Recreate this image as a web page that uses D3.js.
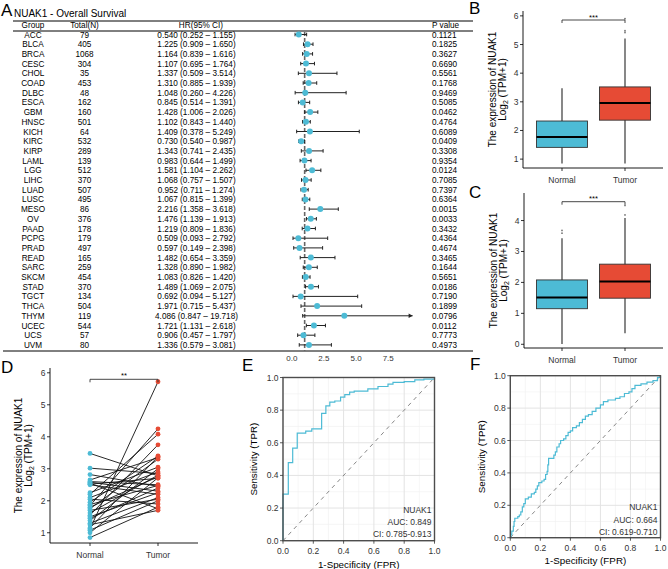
<!DOCTYPE html>
<html><head><meta charset="utf-8">
<script src="https://cdn.jsdelivr.net/npm/d3@7"></script>
<style>body{margin:0;background:#fff}svg{display:block;font-family:"Liberation Sans",Arial,Helvetica,sans-serif}</style>
</head><body><svg id="c" width="668" height="569"></svg>
<script>
// ---------- DATA ----------
const groups = ["ACC","BLCA","BRCA","CESC","CHOL","COAD","DLBC","ESCA","GBM","HNSC","KICH","KIRC","KIRP","LAML","LGG","LIHC","LUAD","LUSC","MESO","OV","PAAD","PCPG","PRAD","READ","SARC","SKCM","STAD","TGCT","THCA","THYM","UCEC","UCS","UVM"];
const totals = [79,405,1068,304,35,453,48,162,160,501,64,532,289,139,512,370,507,495,86,376,178,179,497,165,259,454,370,134,504,119,544,57,80];
const hr = [0.540,1.225,1.164,1.107,1.337,1.310,1.048,0.845,1.428,1.102,1.409,0.730,1.343,0.983,1.581,1.068,0.952,1.067,2.216,1.476,1.219,0.509,0.597,1.482,1.328,1.083,1.489,0.692,1.971,4.086,1.721,0.906,1.336];
const hrLow = [0.252,0.909,0.839,0.695,0.509,0.885,0.260,0.514,1.006,0.843,0.378,0.540,0.741,0.644,1.104,0.757,0.711,0.815,1.358,1.139,0.809,0.093,0.149,0.654,0.890,0.826,1.069,0.094,0.715,0.847,1.131,0.457,0.579];
const hrHigh = [1.155,1.650,1.616,1.764,3.514,1.939,4.226,1.391,2.026,1.440,5.249,0.987,2.435,1.499,2.262,1.507,1.274,1.399,3.618,1.913,1.836,2.792,2.398,3.359,1.982,1.420,2.075,5.127,5.437,19.718,2.618,1.797,3.081];
const pValues = [0.1121,0.1825,0.3627,0.6690,0.5561,0.1768,0.9469,0.5085,0.0462,0.4764,0.6089,0.0409,0.3308,0.9354,0.0124,0.7085,0.7397,0.6364,0.0015,0.0033,0.3432,0.4364,0.4674,0.3465,0.1644,0.5651,0.0186,0.7190,0.1899,0.0796,0.0112,0.7773,0.4973];
const forestTicks = [0, 2.5, 5, 7.5];

const boxGroups = ["Normal","Tumor"];
// panel B
const bQ1 = [1.41, 2.36], bMed = [1.77, 2.96], bQ3 = [2.33, 3.52], bLo = [0.85, 0.85], bHi = [3.47, 5.21];
const bOutNormal = [], bOutTumor = [5.42, 5.48, 5.9];
const bTicks = [1,2,3,4,5,6];
// panel C
const cQ1 = [1.15, 1.49], cMed = [1.51, 2.03], cQ3 = [2.08, 2.59], cLo = [0.01, 0.36], cHi = [3.43, 4.08];
const cOutNormal = [3.59, 3.68], cOutTumor = [4.18, 4.49];
const cTicks = [0,1,2,3,4];
// panel D (paired)
const pairedNormal = [3.48,3.02,2.82,2.65,2.60,2.58,2.55,2.52,2.50,2.25,2.20,2.10,2.05,1.95,1.88,1.85,1.80,1.75,1.70,1.62,1.55,1.50,1.45,1.38,1.30,1.25,1.15,1.12,1.08,1.00,0.85];
const pairedTumor  = [2.78,2.85,2.45,3.35,2.50,2.30,1.75,2.70,2.20,3.05,4.08,2.90,1.90,3.40,2.48,4.25,2.75,3.30,2.05,2.80,3.75,2.25,2.40,3.00,2.10,1.70,3.38,5.72,2.00,2.72,1.80];
const dTicks = [1,2,3,4,5,6];
// panel E ROC
const rocE_fpr = [0,0,0.035,0.064,0.094,0.15,0.19,0.255,0.283,0.309,0.342,0.38,0.408,0.44,0.47,0.56,0.627,0.693,0.726,0.80,0.87,0.93,1];
const rocE_tpr = [0,0.285,0.478,0.567,0.659,0.671,0.685,0.78,0.826,0.849,0.856,0.88,0.895,0.91,0.916,0.93,0.945,0.96,0.97,0.975,0.985,0.99,1];
// panel F ROC
const rocF_fpr = [0,0.005,0.01,0.02,0.025,0.03,0.05,0.06,0.07,0.08,0.09,0.1,0.12,0.14,0.16,0.17,0.18,0.19,0.21,0.225,0.235,0.245,0.25,0.255,0.275,0.29,0.3,0.31,0.325,0.335,0.355,0.37,0.385,0.4,0.415,0.44,0.46,0.48,0.5,0.52,0.545,0.57,0.6,0.62,0.65,0.7,0.73,0.76,0.79,0.81,0.83,0.87,0.91,0.95,0.98,1];
const rocF_tpr = [0,0.02,0.04,0.07,0.1,0.12,0.13,0.14,0.16,0.19,0.21,0.24,0.25,0.27,0.28,0.3,0.32,0.34,0.35,0.36,0.39,0.41,0.45,0.49,0.49,0.51,0.53,0.56,0.58,0.6,0.61,0.63,0.65,0.66,0.68,0.69,0.71,0.73,0.75,0.76,0.78,0.8,0.82,0.84,0.85,0.86,0.87,0.89,0.9,0.92,0.94,0.95,0.96,0.97,0.99,1];
const rocTicks = [0,0.2,0.4,0.6,0.8,1.0];

// ---------- DRAW ----------
const CYAN = "#4DBBD5", RED = "#E64B35", TXT = "#333";
const svg = d3.select("#c");
svg.append("rect").attr("width",668).attr("height",569).attr("fill","#fff");

function txt(g, x, y, s, o = {}) {
  return g.append("text").attr("x", x).attr("y", y).text(s)
    .attr("font-size", o.size || 8.5).attr("fill", o.fill || "#000")
    .attr("text-anchor", o.anchor || "start");
}

// panel letters
[["A",1,16],["B",469,14],["C",469,198],["D",1,373],["E",242,371],["F",470,370]].forEach(([l,x,y]) =>
  txt(svg, x, y, l, {size: 17}));

// ===== Panel A: forest =====
const gA = svg.append("g");
const TS = 8.2;
txt(gA, 14, 17, "NUAK1 - Overall Survival", {size: 10});
const rowY = i => 34.5 + i * 9.7;
const xF = d3.scaleLinear().domain([0, 7.5]).range([291.8, 388.2]);
const xMaxVal = 9.4;
[[13,21],[13,31],[3,351]].forEach(([x0,y]) =>
  gA.append("line").attr("x1", x0).attr("x2", 473).attr("y1", y).attr("y2", y).attr("stroke", "#000").attr("stroke-width", 1));
const hy = 28.2;
txt(gA, 33, hy, "Group", {anchor: "middle", size: TS});
txt(gA, 84.5, hy, "Total(N)", {anchor: "middle", size: TS});
txt(gA, 223, hy, "HR(95% CI)", {anchor: "end", size: TS});
txt(gA, 432, hy, "P value", {size: TS});
const f3 = d3.format(".3f"), f4 = d3.format(".4f");
gA.append("line").attr("x1", xF(1)).attr("x2", xF(1)).attr("y1", 32).attr("y2", 351)
  .attr("stroke", "#666").attr("stroke-width", 1.6).attr("stroke-dasharray", "4,2");
groups.forEach((gname, i) => {
  const y = rowY(i), by = y + 3;
  txt(gA, 33, by, gname, {anchor: "middle", size: TS});
  txt(gA, 84.5, by, totals[i], {anchor: "middle", size: TS});
  txt(gA, 196.5, by, `${f3(hr[i])} (${f3(hrLow[i])} \u2013 ${f3(hrHigh[i])})`, {anchor: "middle", size: TS});
  txt(gA, 432, by, f4(pValues[i]), {size: TS});
  const x1 = xF(hrLow[i]), clipped = hrHigh[i] > xMaxVal, x2 = xF(Math.min(hrHigh[i], xMaxVal));
  gA.append("line").attr("x1", x1).attr("x2", x2).attr("y1", y).attr("y2", y).attr("stroke", "#222").attr("stroke-width", 1);
  gA.append("line").attr("x1", x1).attr("x2", x1).attr("y1", y - 1.8).attr("y2", y + 1.8).attr("stroke", "#222").attr("stroke-width", 1);
  if (clipped) {
    gA.append("path").attr("d", `M${x2},${y}L${x2 - 4},${y - 2.2}L${x2 - 4},${y + 2.2}Z`).attr("fill", "#222");
  } else {
    gA.append("line").attr("x1", x2).attr("x2", x2).attr("y1", y - 1.8).attr("y2", y + 1.8).attr("stroke", "#222").attr("stroke-width", 1);
  }
  gA.append("circle").attr("cx", xF(hr[i])).attr("cy", y).attr("r", 3).attr("fill", CYAN);
});
forestTicks.forEach(t => txt(gA, xF(t), 361, d3.format(".1f")(t), {anchor: "middle", fill: TXT, size: 8}));

// ===== y label helper =====
function yLabel2(g, xa, xb, cy) {
  g.append("text").attr("transform", `translate(${xa},${cy}) rotate(-90)`).attr("text-anchor", "middle")
    .attr("font-size", 10).attr("fill", "#000").text("The expression of NUAK1");
  const t2 = g.append("text").attr("transform", `translate(${xb},${cy}) rotate(-90)`).attr("text-anchor", "middle")
    .attr("font-size", 10).attr("fill", "#000");
  t2.append("tspan").text("Log");
  t2.append("tspan").attr("font-size", 7).attr("dy", 2.5).text("2");
  t2.append("tspan").attr("dy", -2.5).text(" (TPM+1)");
}

// ===== Box panels B, C =====
function boxPanel(o) {
  const g = svg.append("g");
  const y = d3.scaleLinear().domain(o.dom).range([o.yBottom, o.yTop]);
  const x = d3.scalePoint().domain(boxGroups).range([562, 625]);
  const bw = 51;
  g.append("line").attr("x1", o.ax).attr("x2", o.ax).attr("y1", o.yTop).attr("y2", o.yBottom).attr("stroke", "#000").attr("stroke-width", 0.9);
  g.append("line").attr("x1", o.ax).attr("x2", 663).attr("y1", o.yBottom).attr("y2", o.yBottom).attr("stroke", "#000").attr("stroke-width", 0.9);
  o.ticks.forEach(t => {
    g.append("line").attr("x1", o.ax - 3).attr("x2", o.ax).attr("y1", y(t)).attr("y2", y(t)).attr("stroke", "#000").attr("stroke-width", 0.8);
    txt(g, o.ax - 4.5, y(t) + 3, t, {anchor: "end", fill: TXT});
  });
  boxGroups.forEach((k, i) => {
    const cx = x(k), col = i === 0 ? CYAN : RED;
    g.append("line").attr("x1", cx).attr("x2", cx).attr("y1", y(o.lo[i])).attr("y2", y(o.hi[i])).attr("stroke", "#555").attr("stroke-width", 1.4);
    g.append("rect").attr("x", cx - bw / 2).attr("width", bw).attr("y", y(o.q3[i])).attr("height", y(o.q1[i]) - y(o.q3[i]))
      .attr("fill", col).attr("stroke", "#333").attr("stroke-width", 0.9);
    g.append("line").attr("x1", cx - bw / 2).attr("x2", cx + bw / 2).attr("y1", y(o.med[i])).attr("y2", y(o.med[i])).attr("stroke", "#000").attr("stroke-width", 2);
    (i === 0 ? o.outN : o.outT).forEach(v => g.append("circle").attr("cx", cx).attr("cy", y(v)).attr("r", 0.9).attr("fill", "#777"));
    g.append("line").attr("x1", cx).attr("x2", cx).attr("y1", o.yBottom).attr("y2", o.yBottom + 3).attr("stroke", "#000").attr("stroke-width", 0.8);
    txt(g, cx, o.yBottom + 14.5, k, {anchor: "middle", fill: TXT});
  });
  const by = o.bracketY;
  g.append("path").attr("d", `M${x("Normal")},${by + 3}V${by}H${x("Tumor")}V${by + 3}`).attr("fill", "none").attr("stroke", "#333").attr("stroke-width", 0.9);
  txt(g, (x("Normal") + x("Tumor")) / 2, by - 0.3, o.star, {anchor: "middle", size: 7.5});
  yLabel2(g, o.ax - 27.5, o.ax - 17.5, (o.yTop + o.yBottom) / 2);
}
boxPanel({dom: [0.69, 6.17], yBottom: 168, yTop: 11, ax: 523, ticks: bTicks,
  q1: bQ1, med: bMed, q3: bQ3, lo: bLo, hi: bHi, outN: bOutNormal, outT: bOutTumor, bracketY: 20, star: "***"});
boxPanel({dom: [-0.12, 4.89], yBottom: 348, yTop: 193, ax: 524, ticks: cTicks,
  q1: cQ1, med: cMed, q3: cQ3, lo: cLo, hi: cHi, outN: cOutNormal, outT: cOutTumor, bracketY: 201.7, star: "***"});

// ===== Panel D paired =====
(function () {
  const g = svg.append("g");
  const y = d3.scaleLinear().domain([0.68, 6.15]).range([543, 368]);
  const x = d3.scalePoint().domain(boxGroups).range([90, 158]);
  const ax = 50;
  g.append("line").attr("x1", ax).attr("x2", ax).attr("y1", 368).attr("y2", 543).attr("stroke", "#000").attr("stroke-width", 0.9);
  g.append("line").attr("x1", ax).attr("x2", 198).attr("y1", 543).attr("y2", 543).attr("stroke", "#000").attr("stroke-width", 0.9);
  dTicks.forEach(t => {
    g.append("line").attr("x1", ax - 3).attr("x2", ax).attr("y1", y(t)).attr("y2", y(t)).attr("stroke", "#000").attr("stroke-width", 0.8);
    txt(g, ax - 4.5, y(t) + 3, t, {anchor: "end", fill: TXT});
  });
  boxGroups.forEach(k => {
    g.append("line").attr("x1", x(k)).attr("x2", x(k)).attr("y1", 543).attr("y2", 546).attr("stroke", "#000").attr("stroke-width", 0.8);
    txt(g, x(k), 557.5, k, {anchor: "middle", fill: TXT});
  });
  pairedNormal.forEach((v, i) => g.append("line").attr("x1", x("Normal")).attr("x2", x("Tumor"))
    .attr("y1", y(v)).attr("y2", y(pairedTumor[i])).attr("stroke", "#111").attr("stroke-width", 0.9));
  pairedNormal.forEach(v => g.append("circle").attr("cx", x("Normal")).attr("cy", y(v)).attr("r", 2.4).attr("fill", CYAN));
  pairedTumor.forEach(v => g.append("circle").attr("cx", x("Tumor")).attr("cy", y(v)).attr("r", 2.4).attr("fill", RED));
  const by = 379.3;
  g.append("path").attr("d", `M${x("Normal")},${by + 3}V${by}H${x("Tumor")}V${by + 3}`).attr("fill", "none").attr("stroke", "#333").attr("stroke-width", 0.9);
  txt(g, 124, by - 1, "**", {anchor: "middle", size: 7.5});
  yLabel2(g, 21.5, 31.5, 455.5);
})();

// ===== ROC panels =====
function rocPanel(o) {
  const g = svg.append("g");
  const x = d3.scaleLinear().domain([0, 1]).range([o.x0, o.x1]);
  const y = d3.scaleLinear().domain([0, 1]).range([o.y0, o.y1]);
  g.append("rect").attr("x", o.x0).attr("y", o.y1).attr("width", o.x1 - o.x0).attr("height", o.y0 - o.y1).attr("fill", "#fff");
  d3.range(0.1, 1, 0.2).forEach(t => {
    g.append("line").attr("x1", x(t)).attr("x2", x(t)).attr("y1", o.y0).attr("y2", o.y1).attr("stroke", "#f0f0f0").attr("stroke-width", 0.6);
    g.append("line").attr("y1", y(t)).attr("y2", y(t)).attr("x1", o.x0).attr("x2", o.x1).attr("stroke", "#f0f0f0").attr("stroke-width", 0.6);
  });
  rocTicks.forEach(t => {
    g.append("line").attr("x1", x(t)).attr("x2", x(t)).attr("y1", o.y0).attr("y2", o.y1).attr("stroke", "#e3e3e3").attr("stroke-width", 1);
    g.append("line").attr("y1", y(t)).attr("y2", y(t)).attr("x1", o.x0).attr("x2", o.x1).attr("stroke", "#e3e3e3").attr("stroke-width", 1);
  });
  g.append("line").attr("x1", x(0)).attr("y1", y(0)).attr("x2", x(1)).attr("y2", y(1))
    .attr("stroke", "#888").attr("stroke-width", 1).attr("stroke-dasharray", "4,4");
  const pts = o.fpr.map((f, i) => [f, o.tpr[i]]);
  g.append("path").attr("d", d3.line().x(d => x(d[0])).y(d => y(d[1])).curve(d3.curveStepAfter)(pts))
    .attr("fill", "none").attr("stroke", CYAN).attr("stroke-width", 1.2);
  g.append("rect").attr("x", o.x0).attr("y", o.y1).attr("width", o.x1 - o.x0).attr("height", o.y0 - o.y1)
    .attr("fill", "none").attr("stroke", "#4d4d4d").attr("stroke-width", 1.4);
  rocTicks.forEach(t => {
    g.append("line").attr("x1", x(t)).attr("x2", x(t)).attr("y1", o.y0).attr("y2", o.y0 + 3).attr("stroke", "#333").attr("stroke-width", 0.8);
    g.append("line").attr("y1", y(t)).attr("y2", y(t)).attr("x1", o.x0 - 3).attr("x2", o.x0).attr("stroke", "#333").attr("stroke-width", 0.8);
    txt(g, x(t), o.y0 + 13, d3.format(".1f")(t), {anchor: "middle", fill: TXT});
    txt(g, o.x0 - 4.5, y(t) + 3, d3.format(".1f")(t), {anchor: "end", fill: TXT});
  });
  const rx = o.x1 - 3;
  txt(g, rx, o.ann[0], "NUAK1", {anchor: "end", fill: TXT});
  txt(g, rx, o.ann[1], "AUC: " + o.auc, {anchor: "end", fill: TXT});
  txt(g, rx, o.ann[2], "CI: " + o.ci, {anchor: "end", fill: TXT});
  txt(g, (o.x0 + o.x1) / 2, o.xlabY, "1-Specificity (FPR)", {anchor: "middle", size: 9.8});
  g.append("text").attr("transform", `translate(${o.ylabX},${(o.y0 + o.y1) / 2}) rotate(-90)`).attr("text-anchor", "middle")
    .attr("font-size", 9.8).text("Sensitivity (TPR)");
}
rocPanel({x0: 283, x1: 434.5, y0: 540.7, y1: 377.5, fpr: rocE_fpr, tpr: rocE_tpr, auc: "0.849", ci: "0.785-0.913",
  ann: [513, 525, 537.3], xlabY: 567.5, ylabX: 256.5});
rocPanel({x0: 510.3, x1: 660.5, y0: 537.7, y1: 375.7, fpr: rocF_fpr, tpr: rocF_tpr, auc: "0.664", ci: "0.619-0.710",
  ann: [510.3, 523, 535.3], xlabY: 563.5, ylabX: 485});
</script></body></html>
